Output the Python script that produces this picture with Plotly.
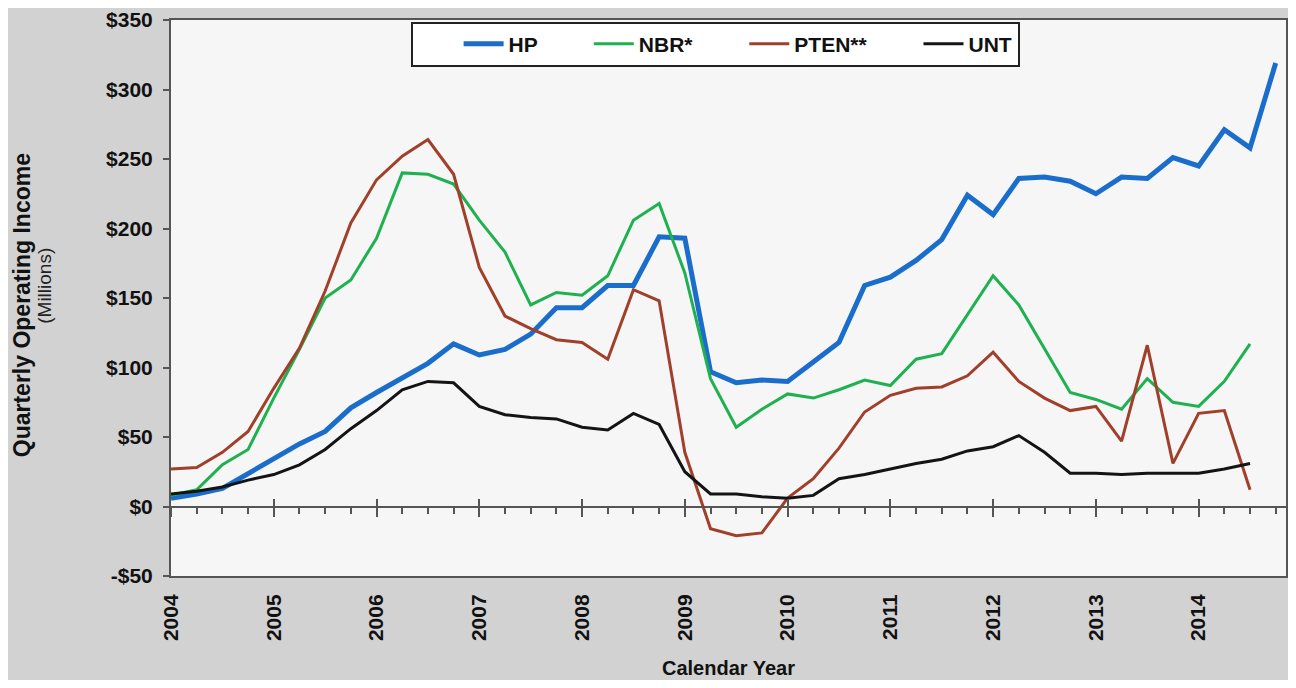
import plotly.graph_objects as go

# ---- data (quarterly operating income, $ millions) ----
quarters = [f"{y} Q{q}" for y in range(2004, 2015) for q in range(1, 5)]  # 2004 Q1 .. 2014 Q4

hp = [6, 9, 13, 24, 34, 45, 54, 71, 82, 93, 103, 117, 109, 113, 124, 143,
      143, 159, 159, 194, 193, 97, 89, 91, 90, 104, 118, 159, 165, 177, 192, 224,
      210, 236, 237, 234, 225, 237, 236, 251, 245, 271, 258, 319]
nbr = [8, 12, 30, 41, 78, 113, 150, 163, 193, 240, 239, 232, 206, 183, 145, 154,
       152, 166, 206, 218, 168, 92, 57, 70, 81, 78, 84, 91, 87, 106, 110, 138,
       166, 145, 113, 82, 77, 70, 92, 75, 72, 90, 117]
pten = [27, 28, 39, 54, 85, 114, 155, 204, 235, 252, 264, 239, 172, 137, 128, 120,
        118, 106, 156, 148, 39, -16, -21, -19, 6, 20, 42, 68, 80, 85, 86, 94,
        111, 90, 78, 69, 72, 47, 116, 31, 67, 69, 12]
unt = [9, 11, 14, 19, 23, 30, 41, 56, 69, 84, 90, 89, 72, 66, 64, 63,
       57, 55, 67, 59, 25, 9, 9, 7, 6, 8, 20, 23, 27, 31, 34, 40,
       43, 51, 39, 24, 24, 23, 24, 24, 24, 27, 31]

year_ticks = list(range(2004, 2015))
year_labels = [str(y) for y in year_ticks]
y_ticks = [-50, 0, 50, 100, 150, 200, 250, 300, 350]
y_labels = ["-$50", "$0", "$50", "$100", "$150", "$200", "$250", "$300", "$350"]
y_title = "Quarterly Operating Income"
y_subtitle = "(Millions)"
x_title = "Calendar Year"


def qx(label):
    y, q = label.split(" Q")
    return int(y) + (int(q) - 1) * 0.25


x_all = [qx(q) for q in quarters]

FONT = "Liberation Sans, Arial, sans-serif"
XR = [2004, 2014.85]
AX = "#555555"

series = [
    ("HP", hp, "#1b6dcc", 5),
    ("NBR*", nbr, "#1fb150", 3),
    ("PTEN**", pten, "#a0402a", 3),
    ("UNT", unt, "#141414", 3),
]

fig = go.Figure()
for name, vals, color, w in series:
    fig.add_trace(go.Scatter(
        x=x_all[:len(vals)], y=vals, name=name, mode="lines",
        line=dict(color=color, width=w), xaxis="x", yaxis="y",
    ))

# invisible helper traces so the decorative axes are drawn
for ax in ("x2", "x3"):
    fig.add_trace(go.Scatter(x=x_all[:len(unt)], y=unt, mode="lines",
                             line=dict(color="rgba(0,0,0,0)", width=0),
                             showlegend=False, hoverinfo="skip", xaxis=ax, yaxis="y"))

zero_pos = (0 - y_ticks[0]) / (y_ticks[-1] - y_ticks[0])

fig.update_layout(
    width=1280, height=672,
    margin=dict(l=163, r=0, t=9, b=104),
    paper_bgcolor="#d2d2d2",
    plot_bgcolor="#f6f6f6",
    font=dict(family=FONT, color="#111111"),
    showlegend=True,
    legend=dict(
        orientation="h", x=0.488, xanchor="center", y=0.997, yanchor="top",
        bgcolor="#ffffff", bordercolor="#222222", borderwidth=2,
        font=dict(family=FONT, size=21, color="#111111", weight="bold"),
        itemwidth=40, indentation=46,
    ),
    # axis at y=0 with year + quarter ticks (outside/below)
    xaxis=dict(
        range=XR, anchor="free", position=zero_pos,
        showline=True, linecolor=AX, linewidth=2,
        ticks="outside", tickvals=year_ticks, ticklen=9, tickwidth=2, tickcolor=AX,
        minor=dict(dtick=0.25, tick0=2004, ticks="outside", ticklen=6, tickwidth=2,
                   tickcolor=AX),
        showticklabels=False, showgrid=False, zeroline=False,
    ),
    # bottom axis: labels + frame
    xaxis2=dict(
        range=XR, overlaying="x", anchor="y", side="bottom",
        showline=True, linecolor=AX, linewidth=2, mirror=True,
        ticks="", tickvals=year_ticks, ticktext=year_labels, tickangle=-90,
        tickfont=dict(family=FONT, size=21, color="#111111", weight="bold"),
        ticklabelstandoff=8,
        showgrid=False, zeroline=False,
        title=dict(text=f"<b>{x_title}</b>", font=dict(family=FONT, size=20, color="#111111"),
                   standoff=21),
    ),
    # major ticks crossing above the zero line
    xaxis3=dict(
        range=XR, overlaying="x", anchor="free", position=zero_pos,
        showline=False, ticks="inside", tickvals=year_ticks, ticklen=8, tickwidth=2,
        tickcolor=AX, showticklabels=False, showgrid=False, zeroline=False,
    ),
    yaxis=dict(
        range=[y_ticks[0], y_ticks[-1]], tickvals=y_ticks, ticktext=y_labels,
        showline=True, linecolor=AX, linewidth=2, mirror=True,
        ticks="outside", ticklen=6, tickwidth=2, tickcolor=AX,
        tickfont=dict(family=FONT, size=21, color="#111111", weight="bold"),
        ticklabelstandoff=6, ticklabeloverflow="allow",
        showgrid=False, zeroline=False,
    ),
    annotations=[
        dict(text=f"<b>{y_title}</b>", textangle=-90, xref="paper", yref="paper",
             x=0, y=0.487, xanchor="center", yanchor="middle", xshift=-149,
             showarrow=False, font=dict(family=FONT, size=23, color="#111111")),
        dict(text=y_subtitle, textangle=-90, xref="paper", yref="paper",
             x=0, y=0.522, xanchor="center", yanchor="middle", xshift=-126,
             showarrow=False, font=dict(family=FONT, size=19, color="#222222")),
    ],
)

fig.write_html("out.html")
